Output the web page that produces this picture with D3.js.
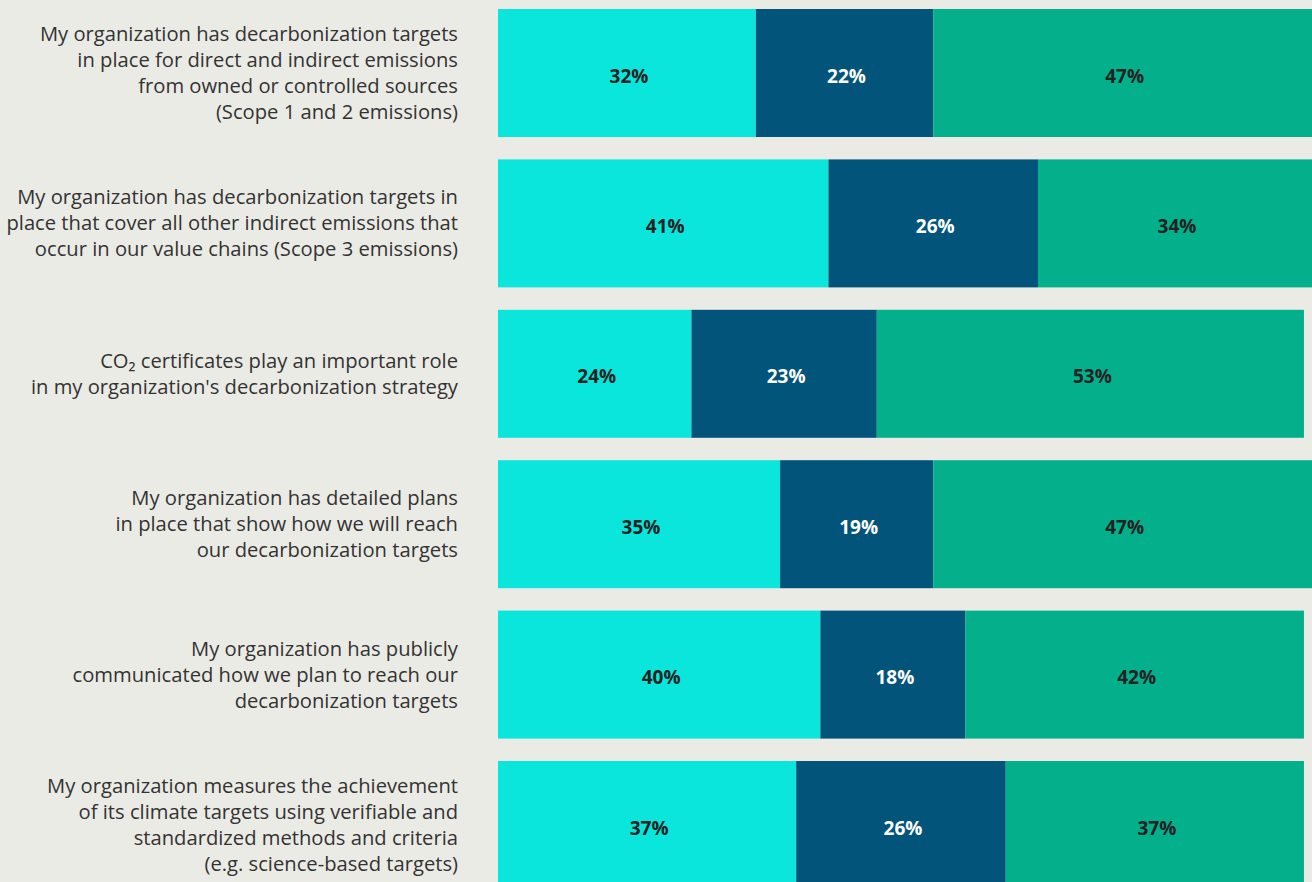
<!DOCTYPE html>
<html>
<head>
<meta charset="utf-8">
<script src="https://cdn.jsdelivr.net/npm/d3@7"></script>
<style>
  html, body { margin: 0; padding: 0; background: #ebebe5; overflow: hidden; }
  svg { display: block; }
  .q-label { font-family: "Open Sans", "Noto Sans", sans-serif; font-size: 20.2px; fill: #333333; }
  .v-label { font-family: "Open Sans", "Noto Sans", sans-serif; font-size: 19px; font-weight: 700; }
</style>
</head>
<body>
<svg id="chart" width="1312" height="882"></svg>
<script>
const WIDTH = 1312;
const HEIGHT = 882;

// Question labels, one array of lines per row
const questions = [
  ["My organization has decarbonization targets", "in place for direct and indirect emissions", "from owned or controlled sources", "(Scope 1 and 2 emissions)"],
  ["My organization has decarbonization targets in", "place that cover all other indirect emissions that", "occur in our value chains (Scope 3 emissions)"],
  ["CO\u2082 certificates play an important role", "in my organization's decarbonization strategy"],
  ["My organization has detailed plans", "in place that show how we will reach", "our decarbonization targets"],
  ["My organization has publicly", "communicated how we plan to reach our", "decarbonization targets"],
  ["My organization measures the achievement", "of its climate targets using verifiable and", "standardized methods and criteria", "(e.g. science-based targets)"],
];

// Series values (percent)
const seriesA = [32, 41, 24, 35, 40, 37];
const seriesB = [22, 26, 23, 19, 18, 26];
const seriesC = [47, 34, 53, 47, 42, 37];

const COLORS = ["#0be6dc", "#02547a", "#04af8c"];
const TEXT_COLORS = ["#222222", "#ffffff", "#222222"];

const BAR_LEFT = 498;
const LABEL_RIGHT = 458;
const LINE_HEIGHT = 26;

const rows = questions.map((q, i) => ({
  id: i,
  lines: q,
  values: [seriesA[i], seriesB[i], seriesC[i]],
}));

const x = d3.scaleLinear().domain([0, 101]).range([BAR_LEFT, WIDTH]);
const y = d3.scaleBand()
  .domain(rows.map((d) => d.id))
  .range([9, 889])
  .paddingInner(0.149)
  .paddingOuter(0);

const svg = d3.select("#chart");

const row = svg.selectAll("g.row")
  .data(rows)
  .enter()
  .append("g")
  .classed("row", true)
  .attr("transform", (d) => `translate(0, ${y(d.id)})`);

// Stacked segments
row.each(function(d) {
  let acc = 0;
  const segs = d.values.map((v, k) => {
    const s = { start: acc, end: acc + v, value: v, k: k };
    acc += v;
    return s;
  });
  const g = d3.select(this);
  g.selectAll("rect")
    .data(segs)
    .enter()
    .append("rect")
    .attr("x", (s) => x(s.start))
    .attr("width", (s) => x(s.end) - x(s.start))
    .attr("y", 0)
    .attr("height", y.bandwidth())
    .attr("fill", (s) => COLORS[s.k]);

  g.selectAll("text.v-label")
    .data(segs)
    .enter()
    .append("text")
    .classed("v-label", true)
    .attr("x", (s) => (x(s.start) + x(s.end)) / 2 + 2)
    .attr("y", y.bandwidth() / 2 + 3)
    .attr("dy", "0.35em")
    .attr("text-anchor", "middle")
    .attr("fill", (s) => TEXT_COLORS[s.k])
    .text((s) => `${s.value}%`);
});

// Question labels, vertically centred on the bar
row.append("text")
  .classed("q-label", true)
  .attr("text-anchor", "end")
  .each(function(d) {
    const t = d3.select(this);
    const n = d.lines.length;
    const top = y.bandwidth() / 2 - ((n - 1) * LINE_HEIGHT) / 2;
    d.lines.forEach((line, j) => {
      t.append("tspan")
        .attr("x", LABEL_RIGHT)
        .attr("y", top + j * LINE_HEIGHT)
        .attr("dy", "0.35em")
        .text(line);
    });
  });
</script>
</body>
</html>
